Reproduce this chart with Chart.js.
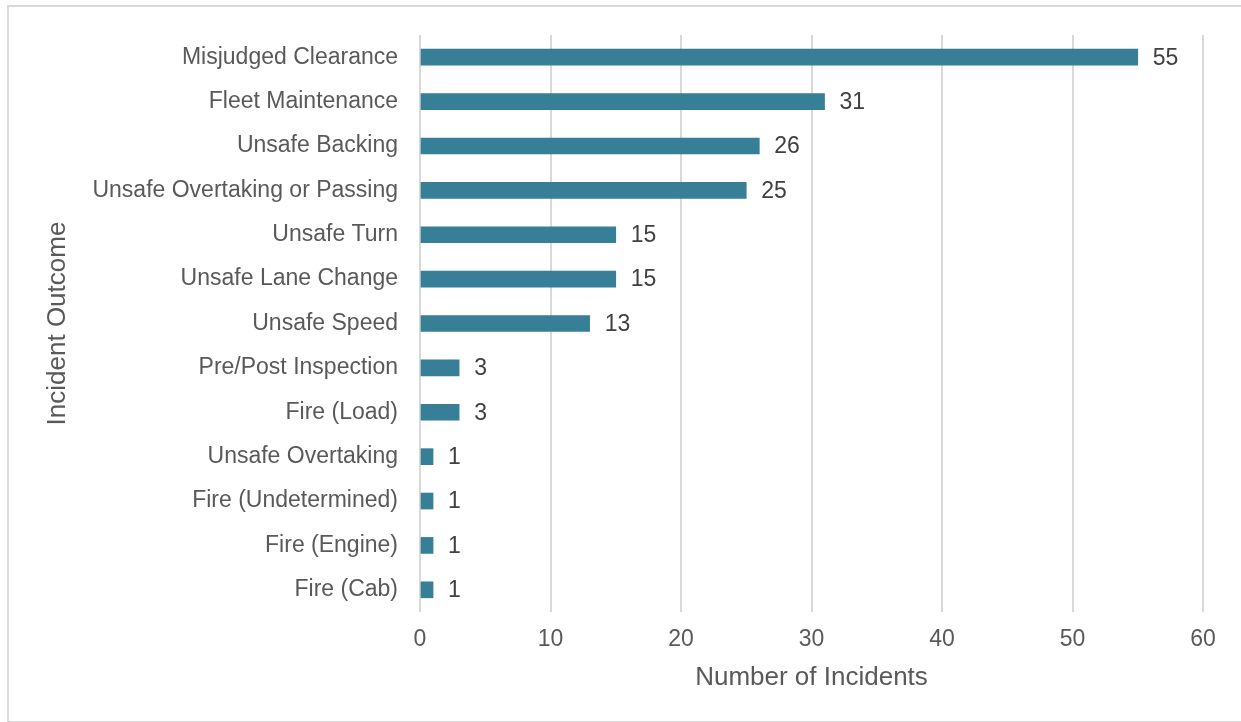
<!DOCTYPE html>
<html>
<head>
<meta charset="utf-8">
<script src="https://cdn.jsdelivr.net/npm/chart.js@4"></script>
<style>
  body { margin: 0; background: #fff; }
  #frame { position: absolute; left: 0; top: 0; width: 1241px; height: 722px; }
  #border { position: absolute; left: 7px; top: 5px; width: 1236px; height: 718px; border: 2px solid #d9d9d9; box-sizing: border-box; }
</style>
</head>
<body>
<div id="frame">
  <div id="border"></div>
  <canvas id="myChart" width="1241" height="722"></canvas>
</div>
<script>
  // Données du graphique
  const categories = ['Misjudged Clearance', 'Fleet Maintenance', 'Unsafe Backing', 'Unsafe Overtaking or Passing',
    'Unsafe Turn', 'Unsafe Lane Change', 'Unsafe Speed', 'Pre/Post Inspection', 'Fire (Load)',
    'Unsafe Overtaking', 'Fire (Undetermined)', 'Fire (Engine)', 'Fire (Cab)'];
  const incidents = [55, 31, 26, 25, 15, 15, 13, 3, 3, 1, 1, 1, 1];
  const xTicks = [0, 10, 20, 30, 40, 50, 60];

  const fontFamily = '"Liberation Sans", Arial, sans-serif';

  // Étiquettes de valeurs à la fin des barres
  const valueLabels = {
    id: 'valueLabels',
    afterDatasetsDraw(chart) {
      const ctx = chart.ctx;
      const meta = chart.getDatasetMeta(0);
      ctx.save();
      ctx.font = '23px ' + fontFamily;
      ctx.fillStyle = '#404040';
      ctx.textAlign = 'left';
      ctx.textBaseline = 'middle';
      meta.data.forEach((bar, i) => {
        ctx.fillText(incidents[i], bar.x + 15, bar.y + 1);
      });
      ctx.restore();
    }
  };

  const ctx = document.getElementById('myChart').getContext('2d');
  const myChart = new Chart(ctx, {
    type: 'bar',
    data: {
      labels: categories,
      datasets: [{
        data: incidents,
        backgroundColor: '#377e97',
        barThickness: 16
      }]
    },
    plugins: [valueLabels],
    options: {
      indexAxis: 'y',
      responsive: false,
      animation: false,
      layout: { padding: { top: 35, right: 38, left: 0, bottom: 0 } },
      plugins: { legend: { display: false }, tooltip: { enabled: false } },
      scales: {
        x: {
          min: 0,
          max: 60,
          afterBuildTicks: axis => { axis.ticks = xTicks.map(v => ({ value: v })); },
          afterFit: axis => { axis.height = 110; },
          grid: { color: '#d9d9d9', lineWidth: 2, drawTicks: false },
          border: { display: false },
          ticks: { color: '#595959', font: { family: fontFamily, size: 23 }, padding: 14 },
          title: {
            display: true,
            text: 'Number of Incidents',
            color: '#595959',
            font: { family: fontFamily, size: 26 },
            padding: { top: 0, bottom: 29 }
          }
        },
        y: {
          afterFit: axis => { axis.width = 420; },
          grid: { display: false },
          border: { display: false },
          ticks: { color: '#595959', font: { family: fontFamily, size: 23 }, padding: 14, autoSkip: false },
          title: {
            display: true,
            text: 'Incident Outcome',
            color: '#595959',
            font: { family: fontFamily, size: 26 },
            padding: { top: 42, bottom: 0 }
          }
        }
      }
    }
  });
</script>
</body>
</html>
